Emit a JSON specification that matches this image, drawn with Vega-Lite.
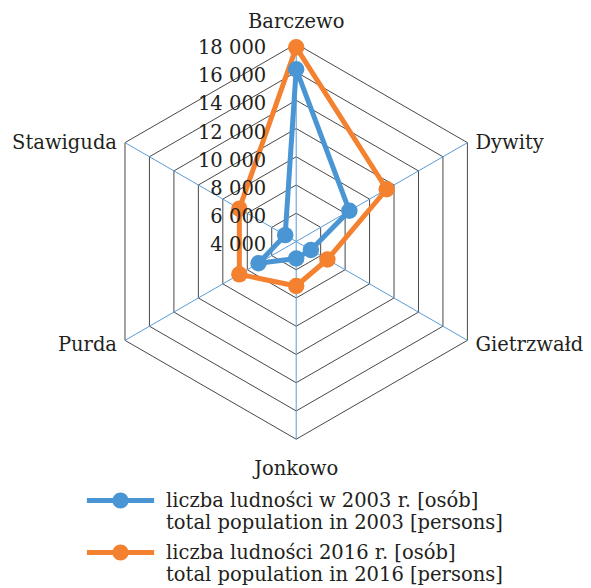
{
  "$schema": "https://vega.github.io/schema/vega-lite/v6.json",
  "width": 591,
  "height": 588,
  "padding": 0,
  "autosize": {"type": "none"},
  "background": "#ffffff",
  "config": {
    "view": {"stroke": null},
    "font": "DejaVu Serif",
    "text": {"font": "DejaVu Serif", "fontSize": 19.5, "color": "#231f20"}
  },
  "datasets": {
    "ludnosc": [
      {"gmina": "Barczewo", "seria": "liczba ludności w 2003 r. [osób]|total population in 2003 [persons]", "wartosc": 16200},
      {"gmina": "Dywity", "seria": "liczba ludności w 2003 r. [osób]|total population in 2003 [persons]", "wartosc": 8350},
      {"gmina": "Gietrzwałd", "seria": "liczba ludności w 2003 r. [osób]|total population in 2003 [persons]", "wartosc": 5200},
      {"gmina": "Jonkowo", "seria": "liczba ludności w 2003 r. [osób]|total population in 2003 [persons]", "wartosc": 5200},
      {"gmina": "Purda", "seria": "liczba ludności w 2003 r. [osób]|total population in 2003 [persons]", "wartosc": 7080},
      {"gmina": "Stawiguda", "seria": "liczba ludności w 2003 r. [osób]|total population in 2003 [persons]", "wartosc": 4900},
      {"gmina": "Barczewo", "seria": "liczba ludności 2016 r. [osób]|total population in 2016 [persons]", "wartosc": 17750},
      {"gmina": "Dywity", "seria": "liczba ludności 2016 r. [osób]|total population in 2016 [persons]", "wartosc": 11400},
      {"gmina": "Gietrzwałd", "seria": "liczba ludności 2016 r. [osób]|total population in 2016 [persons]", "wartosc": 6550},
      {"gmina": "Jonkowo", "seria": "liczba ludności 2016 r. [osób]|total population in 2016 [persons]", "wartosc": 7150},
      {"gmina": "Purda", "seria": "liczba ludności 2016 r. [osób]|total population in 2016 [persons]", "wartosc": 8650},
      {"gmina": "Stawiguda", "seria": "liczba ludności 2016 r. [osób]|total population in 2016 [persons]", "wartosc": 8650}
    ],
    "siatka": [
      {"gmina": ["Barczewo", "Dywity", "Gietrzwałd", "Jonkowo", "Purda", "Stawiguda"], "ring": [4000, 6000, 8000, 10000, 12000, 14000, 16000, 18000]}
    ]
  },
  "encoding": {
    "x": {"field": "X", "type": "quantitative", "scale": {"domain": [-20976, 20877], "nice": false, "zero": false}, "axis": null},
    "y": {"field": "Y", "type": "quantitative", "scale": {"domain": [-24538, 17102], "nice": false, "zero": false}, "axis": null}
  },
  "layer": [
    {
      "data": {"name": "siatka"},
      "transform": [
        {"flatten": ["gmina"]},
        {"flatten": ["ring"]},
        {"filter": "datum.ring > 4000"},
        {"calculate": "indexof(['Barczewo','Dywity','Gietrzwałd','Jonkowo','Purda','Stawiguda'], datum.gmina)", "as": "i"},
        {"calculate": "(datum.ring - 4000) * sin(datum.i * PI / 3)", "as": "X"},
        {"calculate": "(datum.ring - 4000) * cos(datum.i * PI / 3)", "as": "Y"}
      ],
      "mark": {"type": "line", "interpolate": "linear-closed", "stroke": "#333333", "strokeWidth": 0.9, "clip": false},
      "encoding": {
        "detail": {"field": "ring", "type": "nominal"},
        "order": {"field": "i", "type": "quantitative"}
      }
    },
    {
      "data": {"name": "siatka"},
      "transform": [
        {"flatten": ["gmina"]},
        {"calculate": "indexof(['Barczewo','Dywity','Gietrzwałd','Jonkowo','Purda','Stawiguda'], datum.gmina)", "as": "i"},
        {"calculate": "14000 * sin(datum.i * PI / 3)", "as": "X"},
        {"calculate": "14000 * cos(datum.i * PI / 3)", "as": "Y"}
      ],
      "mark": {"type": "rule", "stroke": "#5b9bd5", "strokeWidth": 1},
      "encoding": {
        "x2": {"datum": 0},
        "y2": {"datum": 0}
      }
    },
    {
      "data": {"name": "ludnosc"},
      "transform": [
        {"calculate": "indexof(['Barczewo','Dywity','Gietrzwałd','Jonkowo','Purda','Stawiguda'], datum.gmina)", "as": "i"},
        {"calculate": "(datum.wartosc - 4000) * sin(datum.i * PI / 3)", "as": "X"},
        {"calculate": "(datum.wartosc - 4000) * cos(datum.i * PI / 3)", "as": "Y"}
      ],
      "layer": [
        {
          "mark": {"type": "line", "interpolate": "linear-closed", "strokeWidth": 5, "strokeJoin": "round"},
          "encoding": {
            "color": {
              "field": "seria",
              "type": "nominal",
              "scale": {
                "domain": ["liczba ludności w 2003 r. [osób]|total population in 2003 [persons]", "liczba ludności 2016 r. [osób]|total population in 2016 [persons]"],
                "range": ["#4a95d3", "#f4812f"]
              },
              "legend": {
                "title": null,
                "orient": "none",
                "legendX": 110,
                "legendY": 490,
                "padding": 0,
                "symbolType": "M-4.2,0L4.2,0M0.7,0A0.7,0.7,0,1,1,-0.7,0A0.7,0.7,0,1,1,0.7,0Z",
                "symbolSize": 256,
                "symbolStrokeWidth": 5,
                "labelOffset": 35,
                "labelFont": "DejaVu Serif",
                "labelFontSize": 19.5,
                "labelColor": "#231f20",
                "labelLimit": 0,
                "labelBaseline": "alphabetic",
                "labelExpr": "split(datum.label, '|')",
                "rowPadding": 4,
                "encode": {
                  "symbols": {
                    "update": {
                      "fill": {"scale": "color", "field": "value"},
                      "stroke": {"scale": "color", "field": "value"},
                      "strokeWidth": {"value": 5},
                      "opacity": {"value": 1}
                    }
                  },
                  "labels": {
                    "update": {
                      "lineHeight": {"value": 22},
                      "dy": {"value": 6}
                    }
                  }
                }
              }
            },
            "order": {"field": "i", "type": "quantitative"}
          }
        },
        {
          "mark": {"type": "point", "filled": true, "size": 270, "opacity": 1, "strokeWidth": 0},
          "encoding": {
            "color": {"field": "seria", "type": "nominal"}
          }
        }
      ]
    },
    {
      "data": {"name": "siatka"},
      "transform": [
        {"flatten": ["ring"]},
        {"calculate": "0", "as": "X"},
        {"calculate": "datum.ring - 4000", "as": "Y"},
        {"calculate": "replace(format(datum.ring, ','), ',', ' ')", "as": "etykieta"}
      ],
      "mark": {"type": "text", "align": "right", "baseline": "middle", "dx": -30, "dy": 4},
      "encoding": {"text": {"field": "etykieta", "type": "nominal"}}
    },
    {
      "data": {"name": "siatka"},
      "transform": [
        {"flatten": ["gmina"]},
        {"calculate": "indexof(['Barczewo','Dywity','Gietrzwałd','Jonkowo','Purda','Stawiguda'], datum.gmina)", "as": "i"},
        {"calculate": "datum.i == 0 ? 15545 : (datum.i == 3 ? 16110 : 14000)", "as": "d"},
        {"calculate": "datum.d * sin(datum.i * PI / 3)", "as": "X"},
        {"calculate": "datum.d * cos(datum.i * PI / 3) + ((datum.i == 2 || datum.i == 4) ? -350 : 0)", "as": "Y"}
      ],
      "layer": [
        {
          "transform": [{"filter": "datum.i == 0 || datum.i == 3"}],
          "mark": {"type": "text", "align": "center", "baseline": "middle"},
          "encoding": {"text": {"field": "gmina", "type": "nominal"}}
        },
        {
          "transform": [{"filter": "datum.i == 1 || datum.i == 2"}],
          "mark": {"type": "text", "align": "left", "baseline": "middle", "dx": 8},
          "encoding": {"text": {"field": "gmina", "type": "nominal"}}
        },
        {
          "transform": [{"filter": "datum.i == 4 || datum.i == 5"}],
          "mark": {"type": "text", "align": "right", "baseline": "middle", "dx": -8},
          "encoding": {"text": {"field": "gmina", "type": "nominal"}}
        }
      ]
    }
  ]
}
